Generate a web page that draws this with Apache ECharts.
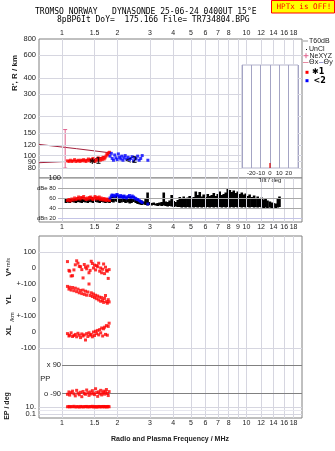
<!DOCTYPE html>
<html><head><meta charset="utf-8">
<script src="https://cdn.jsdelivr.net/npm/echarts/dist/echarts.min.js"></script>
<style>html,body{margin:0;padding:0;background:#fff}#c{width:335px;height:451px}</style>
</head><body><div id="c"></div>
<script>
// ---------- axis ticks ----------
const freqGrid = [1,1.5,2,3,4,5,6,7,8,9,10,12,14,16,18];
const freqLabelsTop = ['1','1.5','2','3','4','5','6','7','8','','10','12','14','16','18'];
const freqLabelsMid = ['1','1.5','2','3','4','5','6','7','8','9','10','12','14','16','18'];
const freqLabelsBot = ['1','1.5','2','3','4','5','6','7','8','','10','12','14','16','18'];
const rTicks = [800,600,400,300,200,150,120,100,90,80];
const rTickLabels = ['800','600','400','300','200','150','120','100','90','80'];
const dbTicks = [100,80,60,40,20];
const dbTickLabels = ['100','dBe 80','60','40','dBn 20'];

// ---------- echoes: range (top panel) ----------
const redF = [1.07,1.09,1.11,1.13,1.15,1.17,1.19,1.21,1.23,1.25,1.27,1.29,1.31,1.33,1.35,1.37,1.39,1.41,1.43,1.45,1.47,1.49,1.51,1.53,1.55,1.57,1.59,1.61,1.63,1.65,1.67,1.69,1.71,1.73,1.75,1.77,1.79,1.81];
const redR = [91,90,92,90,91,93,90,91,92,90,92,91,93,91,90,92,94,91,93,92,95,91,90,93,92,96,94,92,95,93,97,94,96,99,103,101,105,106];
const redDb = [55,57,54,58,56,60,57,59,62,58,61,60,63,59,57,60,58,61,62,59,57,60,63,58,61,59,62,57,60,58,56,59,57,55,58,56,57,55];
const blueF = [1.82,1.85,1.87,1.90,1.93,1.96,1.99,2.02,2.05,2.08,2.11,2.14,2.17,2.20,2.24,2.28,2.32,2.36,2.40,2.44,2.48,2.52,2.57,2.62,2.67,2.72,2.92];
const blueR = [99,104,95,92,101,96,93,103,97,94,99,92,96,100,94,97,93,95,98,91,96,94,99,92,95,100,92];
const blueDb = [60,64,66,65,63,66,67,64,62,65,63,61,64,62,60,63,65,61,64,62,60,58,57,55,53,51,48];

// model curves (dark red)
const modelUpF = [0.75,1.2,1.82];
const modelUpR = [122,113,105];
const modelLoF = [0.75,1.06,1.4,1.65,1.82];
const modelLoR = [88,90,93,97,104];
// error bar
const errF = [1.04], errLo = [80], errHi = [159];
// mode labels
const modeF = [1.51,2.37], modeR = [89.5,90.8], modeText = ['✱1','<2'];

// ---------- amplitude trace ----------
const ampF = [1.05,1.08,1.10,1.13,1.16,1.19,1.22,1.25,1.28,1.31,1.34,1.38,1.41,1.45,1.48,1.52,1.56,1.60,1.64,1.68,1.72,1.77,1.81,1.86,1.90,1.95,2.00,2.05,2.10,2.16,2.21,2.27,2.33,2.38,2.44,2.51,2.57,2.64,2.70,2.77,2.84,2.91,2.99,3.06,3.14,3.22,3.30,3.38,3.47,3.56,3.65,3.74,3.83,3.93,4.03,4.13,4.24,4.35,4.46,4.57,4.68,4.80,4.92,5.05,5.18,5.31,5.44,5.58,5.72,5.86,6.01,6.17,6.32,6.48,6.65,6.81,6.99,7.16,7.35,7.53,7.72,7.92,8.12,8.32,8.53,8.75,8.97,9.20,9.43,9.67,9.91,10.2,10.4,10.7,11.0,11.2,11.5,11.8,12.1,12.4,12.7,13.0,13.4,13.7,14.0,14.4,14.8,15.1];
const ampLo = [50,51,50,52,51,50,52,51,50,52,51,50,52,51,50,52,51,50,52,51,50,51,50,52,51,53,52,50,51,52,50,51,49,50,52,50,48,47,46,47,46,45,46,45,46,45,44,45,44,45,44,43,44,43,42,43,42,42,41,42,41,42,41,42,41,42,41,42,41,42,41,42,41,42,41,42,41,42,41,42,41,42,41,42,41,42,41,42,41,42,41,42,41,42,41,42,41,42,41,40,41,40,41,40,41,40,41,42];
const ampHi = [58,57,59,58,60,59,61,60,62,61,60,59,61,62,60,61,59,60,58,59,57,58,60,63,64,66,65,64,63,65,62,63,62,64,63,61,59,56,55,53,60,71,52,50,51,49,50,51,52,71,53,52,55,66,54,52,56,62,60,63,58,61,64,60,62,73,66,72,63,67,62,68,64,66,70,64,68,73,66,68,71,79,76,72,75,70,73,68,71,67,69,64,67,62,65,60,63,58,61,57,59,55,53,51,50,49,60,63];

// ---------- lower panel (mode 1 echoes) ----------
const lowF = [1.07,1.09,1.10,1.12,1.14,1.16,1.18,1.20,1.22,1.24,1.26,1.28,1.30,1.32,1.34,1.36,1.38,1.40,1.42,1.44,1.46,1.48,1.50,1.52,1.54,1.56,1.58,1.60,1.62,1.64,1.66,1.68,1.70,1.72,1.74,1.76,1.78,1.80];
const vStar = [40,-15,-20,-50,-48,-12,20,45,30,10,8,-10,-62,22,5,-5,12,-30,-15,42,28,0,18,-12,15,8,30,-20,0,-30,-8,25,-35,5,-15,-20,-65,-10];
const ylVals = [85,68,80,62,78,58,74,52,68,45,60,40,62,35,55,30,50,100,28,45,22,38,15,30,8,25,0,18,-8,15,-2,-15,10,28,-10,-20,2,-12];
const xlVals = [-10,-25,-20,-5,-28,-22,-15,-30,-8,-20,-35,-12,-25,-18,-50,-10,-28,-5,-20,-15,-30,0,-22,5,-10,10,-18,15,-5,25,-25,20,30,-15,40,-20,35,55];
const ppVals = [-95,-80,-100,-85,-75,-92,-105,-70,-88,-98,-82,-110,-77,-90,-95,-68,-85,-102,-80,-93,-72,-88,-97,-60,-84,-108,-79,-92,-70,-99,-86,-75,-94,-81,-65,-90,-103,-78];
const epVals = [10,12,9,11,10,13,9,10,11,8,12,10,9,11,10,12,9,10,11,10,13,9,10,11,8,10,12,9,11,10,10,12,9,11,10,9,12,10];

// inset tilt
const tiltX = [0];

// ---------- layout / style ----------
const F_MIN = 0.75, F_MAX = 20, L = 39, W = 263;
const INSET_F0 = 9.46, INSET_F1 = 19.04, INSET_RTOP = 503;
const GRIDC = '#d6d6e0', BORDER = '#808080', NONE = 'rgba(0,0,0,0)';
const LBL = {color:'#222', fontSize:7.5, fontFamily:'Liberation Sans'};
const FLBL = {color:'#222', fontSize:7, fontFamily:'Liberation Sans'};
const SLBL = {color:'#222', fontSize:6, fontFamily:'Liberation Sans'};
const pair = (xs, ys) => xs.map((x,i)=>[x, ys[i]]);

function vLines(labels, pos, seg) {
  return freqGrid.map((f,i)=>{
    const lab = {show: !!labels[i], position: pos, formatter: labels[i] || ' ', distance: 2, ...FLBL};
    if (seg && f >= seg.from) {
      return [{coord:[f, seg.y0], lineStyle:{color:GRIDC,width:1,type:'solid'}, label:lab}, {coord:[f, seg.y1]}];
    }
    return {xAxis: f, lineStyle:{color:GRIDC,width:1,type:'solid'}, label: lab};
  });
}
function hSeg(y, f0, f1, color, text, dist, style) {
  return [{coord:[f0, y], lineStyle:{color, width:1, type:'solid'},
           label:{show: !!text, position:'start', formatter: text || ' ', distance: dist==null?3:dist, ...(style||LBL)}},
          {coord:[f1, y]}];
}
function frame(i, data) {
  return {type:'line', xAxisIndex:i, yAxisIndex:i, data:[], silent:true, z:1, animation:false,
    markLine:{silent:true, symbol:['none','none'], animation:false, lineStyle:{type:'solid'}, data}};
}
function pts(i, xs, ys, color) {
  return {type:'scatter', xAxisIndex:i, yAxisIndex:i, data: pair(xs, ys), symbol:'rect', symbolSize:3,
    itemStyle:{color}, z:5, silent:true, animation:false};
}

// top panel gridlines
const topML = vLines(freqLabelsTop, 'end', {from: 10, y0: INSET_RTOP, y1: 800});
rTicks.forEach(r=>{
  if (r === 800) return;
  if (r > INSET_RTOP) { topML.push(hSeg(r, F_MIN, F_MAX, GRIDC, '')); return; }
  topML.push(hSeg(r, F_MIN, INSET_F0, GRIDC, ''));
  topML.push(hSeg(r, INSET_F1, F_MAX, GRIDC, ''));
});
// dB panel
const dbML = vLines(freqLabelsMid, 'start');
dbTicks.forEach((d,i)=>{
  if (d === 100) dbML.push(hSeg(d, 1.0, F_MAX, NONE, dbTickLabels[i], 1));
  else dbML.push(hSeg(d, 0.95, F_MAX, d === 20 ? '#c4c4e6' : '#a8a8a8', dbTickLabels[i], 2, SLBL));
});
// lower frame
const lowML = vLines(freqLabelsBot, 'start');

const T = (x, y, text, font, extra) => Object.assign({type:'text', x, y, style:Object.assign({text, font, fill:'#222', textVerticalAlign:'middle', verticalAlign:'middle'}, extra||{})});
const R90 = {textAlign:'center', align:'center'};

const staticGraphics = [
  T(35, 12, 'TROMSO NORWAY   DYNASONDE 25-06-24 0400UT 15°E', '8px "DejaVu Sans Mono"', {fill:'#000'}),
  T(57, 20, '8pBP6It DoY=  175.166 File= TR734804.BPG', '8px "DejaVu Sans Mono"', {fill:'#000'}),
  {type:'rect', shape:{x:271.5, y:0.5, width:63, height:12.5}, style:{fill:'#ffff00', stroke:'#ff0000', lineWidth:1}},
  T(276.5, 7, 'HPTx is OFF!', '7.6px "DejaVu Sans Mono"', {fill:'#ff0000'}),
  // legend
  {type:'line', shape:{x1:303, y1:41, x2:308, y2:41}, style:{stroke:'#9a9a9a', lineWidth:1}},
  T(309, 41, 'T60dB', '7px "Liberation Sans"'),
  {type:'rect', shape:{x:306, y:49, width:1, height:1}, style:{fill:'#000'}},
  T(309, 49.5, 'UnCl', '7px "Liberation Sans"'),
  {type:'line', shape:{x1:303.5, y1:55.7, x2:308.5, y2:55.7}, style:{stroke:'#e0628e', lineWidth:1}},
  {type:'line', shape:{x1:306, y1:53.2, x2:306, y2:58.2}, style:{stroke:'#e0628e', lineWidth:1}},
  T(309.5, 55.7, 'NeXYZ', '7px "Liberation Sans"'),
  {type:'line', shape:{x1:303, y1:62.5, x2:308.5, y2:62.5}, style:{stroke:'#e88aa0', lineWidth:1}},
  T(309, 62.5, 'Θx', '7px "DejaVu Sans"'),
  {type:'line', shape:{x1:319, y1:62.5, x2:323.5, y2:62.5}, style:{stroke:'#9a9ad0', lineWidth:1}},
  T(323.5, 62.5, 'Θy', '7px "DejaVu Sans"'),
  {type:'rect', shape:{x:305.5, y:70.8, width:3, height:3}, style:{fill:'#ff0000'}},
  T(312, 72.3, '✱1', 'bold 8px "DejaVu Sans"', {fill:'#000'}),
  {type:'rect', shape:{x:305.5, y:79.2, width:3, height:3}, style:{fill:'#0000ff'}},
  T(313.5, 80.7, '<2', 'bold 8px "DejaVu Sans"', {fill:'#000'}),
  // axis titles
  Object.assign(T(15, 73, "R', R / km", 'bold 8px "Liberation Sans"', R90), {rotation:Math.PI/2}),
  Object.assign(T(8.5, 272, 'V*', 'bold 8px "Liberation Sans"', R90), {rotation:Math.PI/2}),
  Object.assign(T(8.5, 262.5, 'm/s', '5.5px "Liberation Sans"', R90), {rotation:Math.PI/2}),
  Object.assign(T(8.5, 299.7, 'YL', 'bold 8px "Liberation Sans"', R90), {rotation:Math.PI/2}),
  Object.assign(T(12.7, 317, '/km', '6px "Liberation Sans"', R90), {rotation:Math.PI/2}),
  Object.assign(T(8.5, 330.5, 'XL', 'bold 8px "Liberation Sans"', R90), {rotation:Math.PI/2}),
  Object.assign(T(7, 406, 'EP / deg', 'bold 7px "Liberation Sans"', R90), {rotation:Math.PI/2}),
  T(170, 439, 'Radio and Plasma Frequency / MHz', 'bold 7px "Liberation Sans"', R90)
];

const option = {
  animation:false,
  grid:[
    {left:L, top:39, width:W, height:139, show:true, borderColor:BORDER, borderWidth:1, backgroundColor:'#fff'},
    {left:L, top:178, width:W, height:44, show:true, borderColor:BORDER, borderWidth:1, backgroundColor:'#fff'},
    {left:L, top:236, width:W, height:182, show:true, borderColor:BORDER, borderWidth:1, backgroundColor:'#fff'},
    {left:L, top:236, width:W, height:48},
    {left:L, top:284, width:W, height:32},
    {left:L, top:316, width:W, height:40},
    {left:L, top:355.5, width:W, height:47.5},
    {left:L, top:403, width:W, height:15},
    {left:242, top:65, width:56, height:103, show:true, borderColor:'#b4b4cc', borderWidth:1, backgroundColor:'#fff'}
  ],
  xAxis:[0,1,2,3,4,5,6,7].map(i=>({type:'log', logBase:10, gridIndex:i, min:F_MIN, max:F_MAX, show:false})).concat([
    {type:'value', gridIndex:8, min:-30, max:30, interval:10,
     axisLine:{show:false}, axisTick:{show:false},
     splitLine:{show:true, lineStyle:{color:'#a4a4c4', width:1}},
     axisLabel:{fontSize:6, margin:2, color:'#222', fontFamily:'Liberation Sans', formatter:v=>Math.abs(v)<=20?String(v):''},
     name:'Tilt / deg', nameLocation:'middle', nameGap:9, nameTextStyle:{fontSize:6, color:'#222', fontFamily:'Liberation Sans'}}
  ]),
  yAxis:[
    {type:'log', logBase:10, gridIndex:0, min:67, max:800, show:false},
    {type:'value', gridIndex:1, min:12, max:100, show:false},
    {type:'value', gridIndex:2, min:0, max:1, show:false},
    {type:'value', gridIndex:3, min:-100, max:200, show:false},
    {type:'value', gridIndex:4, min:-100, max:100, show:false},
    {type:'value', gridIndex:5, min:-150, max:100, show:false},
    {type:'value', gridIndex:6, min:-150, max:150, show:false},
    {type:'log', logBase:10, gridIndex:7, min:0.01, max:100, show:false},
    {type:'value', gridIndex:8, min:0, max:1, show:false}
  ],
  series:[
    frame(0, topML),
    frame(1, dbML),
    frame(2, lowML),
    frame(3, [hSeg(100, F_MIN, F_MAX, GRIDC, '100'), hSeg(0, F_MIN, 1.0, NONE, '0')]),
    frame(4, [hSeg(100, F_MIN, 1.0, NONE, '+-100'), hSeg(0, F_MIN, 1.0, NONE, '0')]),
    frame(5, [hSeg(100, F_MIN, 1.0, NONE, '+-100'), hSeg(0, F_MIN, 1.0, NONE, '0'), hSeg(-100, F_MIN, F_MAX, GRIDC, '-100')]),
    frame(6, [hSeg(90, 1.0, F_MAX, BORDER, 'x 90', 1), hSeg(-90, 1.0, F_MAX, BORDER, 'o -90', 1), hSeg(0, 0.874, 1.0, NONE, 'PP', 1)]),
    frame(7, [hSeg(10, F_MIN, F_MAX, GRIDC, '10.'), hSeg(1, F_MIN, F_MAX, '#e6e6ee', ''), hSeg(0.1, F_MIN, F_MAX, GRIDC, '0.1')]),
    // model curves
    {type:'line', xAxisIndex:0, yAxisIndex:0, data:pair(modelUpF, modelUpR), symbol:'none', lineStyle:{color:'#a3203c', width:1}, z:3, silent:true},
    {type:'line', xAxisIndex:0, yAxisIndex:0, data:pair(modelLoF, modelLoR), symbol:'none', lineStyle:{color:'#a3203c', width:1}, z:3, silent:true},
    // error bar
    {type:'custom', xAxisIndex:0, yAxisIndex:0, z:4, silent:true,
     data: errF.map((f,i)=>[f, errLo[i], errHi[i]]), encode:{x:0, y:[1,2]},
     renderItem:(p,api)=>{const f=api.value(0); const a=api.coord([f,api.value(1)]); const b=api.coord([f,api.value(2)]);
       const s={stroke:'#e0628e', lineWidth:1};
       return {type:'group', children:[
         {type:'line', shape:{x1:a[0],y1:a[1],x2:b[0],y2:b[1]}, style:s},
         {type:'line', shape:{x1:a[0]-2,y1:a[1],x2:a[0]+2,y2:a[1]}, style:s},
         {type:'line', shape:{x1:b[0]-2,y1:b[1],x2:b[0]+2,y2:b[1]}, style:s}]};}},
    pts(0, redF, redR, '#ff0000'),
    pts(0, blueF, blueR, '#0000ff'),
    {type:'scatter', xAxisIndex:0, yAxisIndex:0, data:pair(modeF, modeR), symbolSize:1, itemStyle:{color:NONE}, z:6, silent:true,
     label:{show:true, position:'inside', formatter:p=>modeText[p.dataIndex], fontSize:8, fontWeight:'bold', color:'#000', fontFamily:'DejaVu Sans'}},
    // amplitude
    {type:'custom', xAxisIndex:1, yAxisIndex:1, z:3, silent:true,
     data: ampF.map((f,i)=>[f, ampLo[i], ampHi[i]]), encode:{x:0, y:[1,2]},
     renderItem:(p,api)=>{const a=api.coord([api.value(0),api.value(1)]); const b=api.coord([api.value(0),api.value(2)]);
       return {type:'rect', shape:{x:a[0]-1.3, y:b[1], width:2.6, height:a[1]-b[1]}, style:{fill:'#000'}};}},
    pts(1, redF, redDb, '#ff0000'),
    pts(1, blueF, blueDb, '#0000ff'),
    pts(3, lowF, vStar, '#ff0000'),
    pts(4, lowF, ylVals, '#ff0000'),
    pts(5, lowF, xlVals, '#ff0000'),
    pts(6, lowF, ppVals, '#ff0000'),
    pts(7, lowF, epVals, '#ff0000'),
    {type:'scatter', xAxisIndex:8, yAxisIndex:8, data: tiltX.map(t=>[t,0]), symbol:'rect', symbolSize:[1.5,5], symbolOffset:[0,-2.5], itemStyle:{color:'#e00000'}, z:6, silent:true}
  ],
  graphic: staticGraphics
};
const chart = echarts.init(document.getElementById('c'));
chart.setOption(option);
// R' tick labels placed through the chart's own log scale, on their own top layer
const rLabelGraphics = rTicks.map((r,i)=>{
  const p = chart.convertToPixel({xAxisIndex:0, yAxisIndex:0}, [F_MIN, r]);
  return Object.assign(T(p[0]-3, p[1], rTickLabels[i], '7.5px "Liberation Sans"', {textAlign:'right', align:'right'}), {z:1000, zlevel:1});
});
chart.setOption({graphic: staticGraphics.concat(rLabelGraphics)}, {replaceMerge:['graphic']});
</script></body></html>
